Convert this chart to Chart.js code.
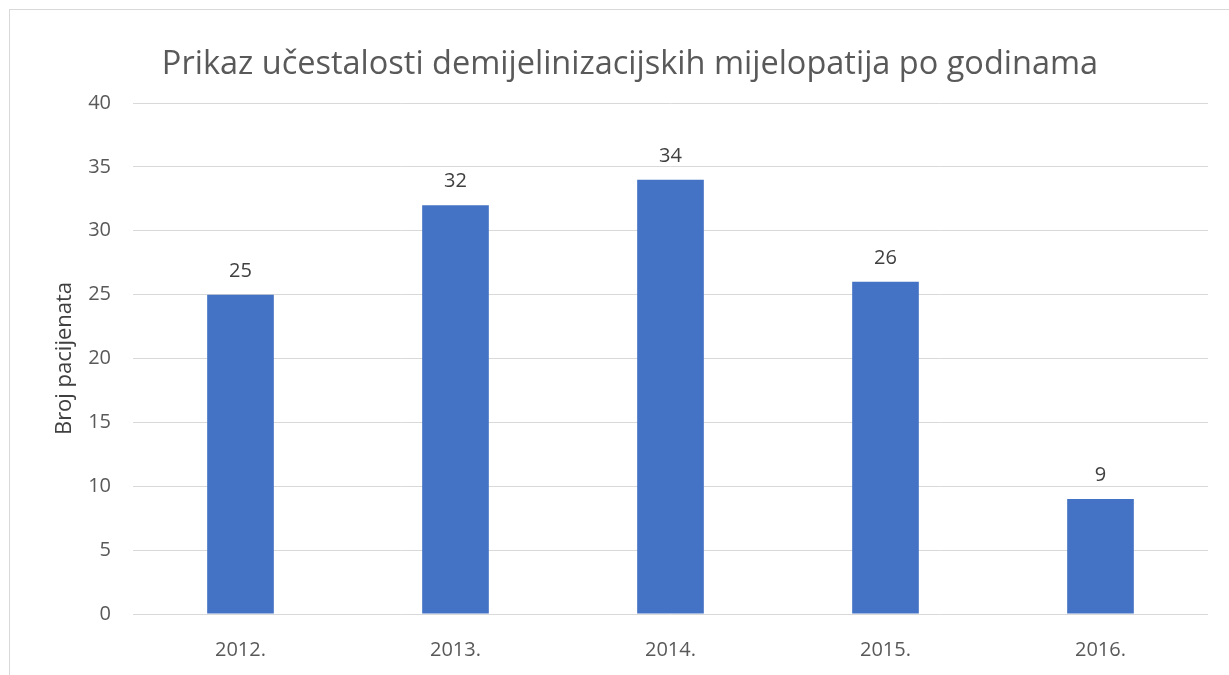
<!DOCTYPE html>
<html>
<head>
<meta charset="utf-8">
<script src="https://cdn.jsdelivr.net/npm/chart.js@4"></script>
<style>
  html, body { margin: 0; padding: 0; background: #fff; overflow: hidden; }
  #wrap { position: relative; width: 1229px; height: 675px; }
  #frame { position: absolute; left: 9px; top: 9px; width: 1400px; height: 800px;
           border: 1px solid #d9d9d9; pointer-events: none; }
</style>
</head>
<body>
<div id="wrap">
  <canvas id="myChart" width="1229" height="675"></canvas>
  <div id="frame"></div>
</div>
<script>
"use strict";

// data
const years = ["2012.", "2013.", "2014.", "2015.", "2016."];
const patients = [25, 32, 34, 26, 9];
const yTicks = [0, 5, 10, 15, 20, 25, 30, 35, 40];

const fontName = "'Open Sans', 'Noto Sans', sans-serif";
const textGrey = "#595959";

// value labels above bars
const barLabels = {
  id: "barLabels",
  afterDatasetsDraw(chart) {
    const ctx = chart.ctx;
    const meta = chart.getDatasetMeta(0);
    ctx.save();
    ctx.font = "20px " + fontName;
    ctx.fillStyle = "#404040";
    ctx.textAlign = "center";
    ctx.textBaseline = "alphabetic";
    meta.data.forEach((bar, i) => {
      ctx.fillText(String(patients[i]), bar.x, bar.y - 18);
    });
    ctx.restore();
  }
};

const data = {
  labels: years,
  datasets: [{
    label: "Broj pacijenata",
    data: patients,
    backgroundColor: "#4472c4",
    borderWidth: 0,
    barPercentage: 0.31,
    categoryPercentage: 1
  }]
};

const config = {
  type: "bar",
  data: data,
  plugins: [barLabels],
  options: {
    responsive: false,
    animation: false,
    layout: { padding: { left: 52, right: 21, top: 0, bottom: 0 } },
    plugins: {
      legend: { display: false },
      tooltip: { enabled: false },
      title: {
        display: true,
        text: "Prikaz učestalosti demijelinizacijskih mijelopatija po godinama",
        color: textGrey,
        font: { family: fontName, size: 32.5, weight: "normal" },
        padding: { top: 45, bottom: 19 }
      }
    },
    scales: {
      x: {
        grid: { display: false },
        border: { display: false },
        ticks: { color: textGrey, font: { family: fontName, size: 20 }, padding: 16 },
        afterFit(scale) { scale.height = 61; }
      },
      y: {
        min: 0,
        max: 40,
        afterBuildTicks(scale) { scale.ticks = yTicks.map(v => ({ value: v })); },
        grid: { color: "#d9d9d9", lineWidth: 1, drawTicks: false },
        border: { display: false },
        ticks: { color: textGrey, font: { family: fontName, size: 20 }, padding: 22 },
        title: {
          display: true,
          text: "Broj pacijenata",
          color: "#404040",
          font: { family: fontName, size: 22 },
          padding: { top: 0, bottom: 0 }
        },
        afterFit(scale) { scale.width = 81; }
      }
    }
  }
};

const myChart = new Chart(document.getElementById("myChart"), config);
</script>
</body>
</html>
